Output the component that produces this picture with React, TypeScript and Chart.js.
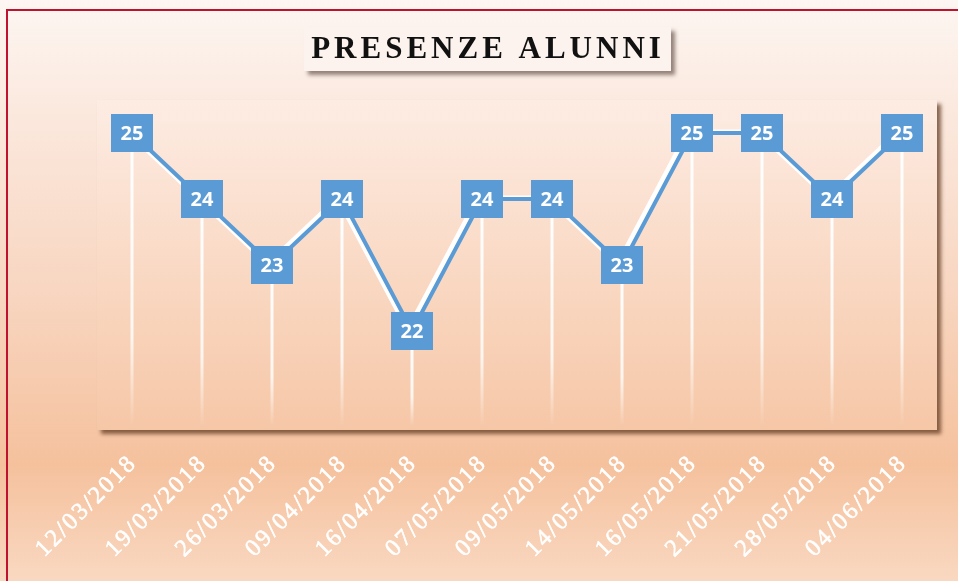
import React, { useEffect, useRef } from "react";
import { Chart, registerables } from "chart.js";

Chart.register(...registerables);

const categories = [
  "12/03/2018", "19/03/2018", "26/03/2018", "09/04/2018", "16/04/2018", "07/05/2018",
  "09/05/2018", "14/05/2018", "16/05/2018", "21/05/2018", "28/05/2018", "04/06/2018",
];
const presenze = [25, 24, 23, 24, 22, 24, 24, 23, 25, 25, 24, 25];
const titleText = "PRESENZE ALUNNI";
const yMin = 20.5;
const yMax = 25.5;

const decor = {
  id: "decor",
  beforeDraw(chart: any) {
    const { ctx, width, height, chartArea } = chart;
    ctx.save();
    const g = ctx.createLinearGradient(0, 0, 0, height);
    g.addColorStop(0, "#fdf6f2");
    g.addColorStop(0.2, "#fbe8dd");
    g.addColorStop(0.5, "#f8d6c1");
    g.addColorStop(0.8, "#f5c19d");
    g.addColorStop(1, "#f9d8c1");
    ctx.fillStyle = g;
    ctx.fillRect(0, 0, width, height);
    // red frame
    ctx.fillStyle = "#c0122e";
    ctx.fillRect(6, 9, 2, height - 9);
    ctx.fillRect(6, 9, width - 6, 2);
    // plot area box with shadow
    const { left, top, right, bottom } = chartArea;
    ctx.save();
    ctx.shadowColor = "rgba(95,55,30,0.75)";
    ctx.shadowBlur = 4;
    ctx.shadowOffsetX = 4;
    ctx.shadowOffsetY = 4;
    ctx.fillStyle = "#f6c9a9";
    ctx.fillRect(left, top, right - left, bottom - top);
    ctx.restore();
    const pg = ctx.createLinearGradient(0, top, 0, bottom);
    pg.addColorStop(0, "#fdece3");
    pg.addColorStop(1, "#f6c7a7");
    ctx.fillStyle = pg;
    ctx.fillRect(left, top, right - left, bottom - top);
    // title box
    ctx.save();
    ctx.shadowColor = "rgba(60,40,30,0.55)";
    ctx.shadowBlur = 4;
    ctx.shadowOffsetX = 4;
    ctx.shadowOffsetY = 4;
    ctx.fillStyle = "#fdf3ee";
    ctx.fillRect(304, 27, 367, 44);
    ctx.restore();
    // title text
    ctx.fillStyle = "#111";
    ctx.font = "bold 31px 'Liberation Serif', serif";
    (ctx as any).letterSpacing = "4px";
    ctx.textAlign = "left";
    ctx.textBaseline = "alphabetic";
    const w = ctx.measureText(titleText).width - 4;
    ctx.fillText(titleText, 486 - w / 2, 58);
    (ctx as any).letterSpacing = "0px";
    ctx.restore();
  },
  beforeDatasetsDraw(chart: any) {
    const { ctx, chartArea } = chart;
    const meta = chart.getDatasetMeta(0);
    ctx.save();
    // drop lines
    meta.data.forEach((pt: any) => {
      const gl = ctx.createLinearGradient(0, pt.y, 0, chartArea.bottom - 4);
      gl.addColorStop(0, "rgba(255,255,255,1)");
      gl.addColorStop(0.7, "rgba(255,255,255,0.8)");
      gl.addColorStop(1, "rgba(255,255,255,0)");
      ctx.strokeStyle = gl;
      ctx.lineWidth = 3;
      ctx.beginPath();
      ctx.moveTo(pt.x, pt.y);
      ctx.lineTo(pt.x, chartArea.bottom - 4);
      ctx.stroke();
    });
    // white offset line
    ctx.strokeStyle = "#ffffff";
    ctx.lineWidth = 5;
    ctx.lineJoin = "round";
    ctx.beginPath();
    meta.data.forEach((pt: any, i: number) => {
      if (i === 0) ctx.moveTo(pt.x - 4, pt.y - 1);
      else ctx.lineTo(pt.x - 4, pt.y - 1);
    });
    ctx.stroke();
    ctx.restore();
  },
  afterDatasetsDraw(chart: any) {
    const { ctx } = chart;
    const meta = chart.getDatasetMeta(0);
    ctx.save();
    meta.data.forEach((pt: any, i: number) => {
      ctx.fillStyle = "#5b9bd5";
      ctx.fillRect(pt.x - 21, pt.y - 19, 42, 38);
      ctx.fillStyle = "#ffffff";
      ctx.font = "bold 20px 'Open Sans', sans-serif";
      ctx.textAlign = "center";
      ctx.textBaseline = "middle";
      ctx.fillText(String(presenze[i]), pt.x, pt.y + 1);
    });
    // x labels
    const xs = chart.scales.x;
    ctx.fillStyle = "#ffffff";
    ctx.strokeStyle = "#ffffff";
    ctx.lineWidth = 0.6;
    ctx.font = "24px 'Liberation Serif', serif";
    (ctx as any).letterSpacing = "2.3px";
    ctx.textAlign = "right";
    ctx.textBaseline = "top";
    categories.forEach((c, i) => {
      const x = xs.getPixelForValue(i);
      ctx.save();
      ctx.translate(x - 7, 451);
      ctx.rotate(-Math.PI / 4);
      ctx.fillText(c, 0, 0);
      ctx.strokeText(c, 0, 0);
      ctx.restore();
    });
    (ctx as any).letterSpacing = "0px";
    ctx.restore();
  },
};

export default function App() {
  const ref = useRef<HTMLCanvasElement>(null);
  useEffect(() => {
    document.body.style.margin = "0";
    const chart = new Chart(ref.current!, {
      type: "line",
      data: {
        labels: categories,
        datasets: [
          {
            data: presenze,
            borderColor: "#5b9bd5",
            borderWidth: 4,
            pointRadius: 0,
            tension: 0,
          },
        ],
      },
      options: {
        responsive: false,
        animation: false,
        layout: { padding: { left: 97, right: 21, top: 100, bottom: 151 } },
        scales: {
          x: { display: false, offset: true },
          y: { display: false, min: yMin, max: yMax },
        },
        plugins: { legend: { display: false }, tooltip: { enabled: false } },
      },
      plugins: [decor],
    });
    return () => chart.destroy();
  }, []);
  return <canvas ref={ref} width={958} height={581} style={{ display: "block" }} />;
}
